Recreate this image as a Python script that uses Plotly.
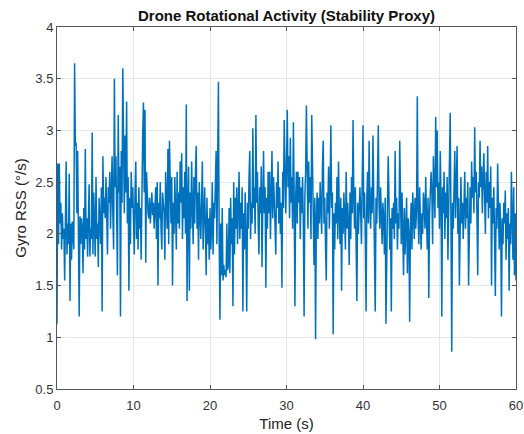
import plotly.graph_objects as go

dt = 0.1
rows = [
    [1.13, 2.68, 1.90, 2.68, 2.10, 2.30, 1.85, 2.20, 1.95, 2.05],
    [1.55, 2.25, 2.70, 1.80, 2.10, 1.90, 2.58, 1.35, 2.10, 1.75],
    [2.12, 2.00, 1.85, 3.65, 2.85, 2.88, 2.20, 2.80, 2.05, 1.20],
    [2.17, 1.90, 2.15, 2.05, 1.62, 2.25, 1.85, 2.82, 1.95, 2.15],
    [1.78, 2.30, 2.48, 1.78, 2.05, 1.95, 2.98, 1.80, 2.40, 2.10],
    [1.78, 2.55, 1.95, 2.10, 1.68, 2.35, 2.15, 1.90, 2.45, 1.25],
    [2.75, 2.20, 2.35, 2.15, 2.55, 2.25, 1.80, 2.45, 2.30, 2.60],
    [2.05, 2.40, 2.75, 2.20, 1.85, 3.50, 2.45, 2.75, 2.20, 1.60],
    [3.15, 2.40, 2.65, 1.20, 2.80, 2.30, 3.60, 2.55, 2.20, 2.95],
    [2.40, 3.28, 2.10, 2.55, 1.45, 2.35, 1.90, 2.60, 2.25, 2.45],
    [2.15, 1.80, 2.40, 2.70, 1.95, 2.30, 1.85, 2.45, 2.05, 2.25],
    [1.75, 2.55, 2.95, 3.27, 2.40, 3.20, 1.72, 2.60, 2.30, 2.20],
    [2.15, 2.35, 2.10, 2.25, 2.40, 2.18, 2.30, 2.05, 2.22, 2.45],
    [1.95, 2.50, 1.50, 2.30, 2.15, 2.50, 2.05, 1.85, 2.40, 2.25],
    [2.20, 1.75, 2.60, 2.30, 2.05, 2.82, 1.90, 2.90, 2.35, 2.10],
    [2.55, 1.50, 2.30, 2.00, 2.55, 2.25, 1.85, 2.60, 2.10, 2.40],
    [2.05, 2.70, 2.30, 2.78, 1.95, 2.45, 2.15, 2.60, 2.00, 3.25],
    [1.35, 2.25, 2.65, 1.45, 2.40, 2.05, 2.70, 2.25, 1.90, 2.55],
    [2.10, 2.60, 2.85, 2.05, 2.40, 1.75, 2.50, 2.20, 1.95, 2.30],
    [2.70, 1.85, 2.20, 2.45, 2.05, 1.60, 2.35, 1.90, 2.15, 1.75],
    [2.25, 1.85, 2.05, 2.50, 1.80, 2.30, 2.15, 2.45, 2.80, 1.90],
    [2.60, 3.47, 1.95, 1.17, 2.10, 1.60, 2.25, 1.55, 1.70, 1.60],
    [1.65, 1.58, 2.10, 1.65, 1.70, 2.25, 1.62, 2.35, 1.90, 2.15],
    [1.30, 2.50, 1.80, 2.35, 2.05, 2.45, 1.90, 2.20, 2.60, 1.95],
    [2.30, 2.05, 2.45, 1.25, 2.20, 1.85, 2.40, 1.95, 1.25, 2.30],
    [2.05, 2.55, 2.80, 1.95, 2.30, 2.10, 3.02, 2.25, 2.45, 2.00],
    [3.15, 2.30, 2.60, 2.10, 1.80, 2.45, 2.20, 2.65, 1.68, 2.30],
    [2.80, 2.20, 2.45, 1.48, 2.35, 2.05, 2.60, 2.20, 2.60, 1.95],
    [2.40, 2.80, 2.15, 2.55, 2.35, 2.05, 1.80, 2.50, 2.25, 2.70],
    [2.10, 2.45, 2.00, 2.30, 1.48, 2.60, 2.25, 3.10, 2.40, 2.20],
    [2.65, 3.20, 2.45, 2.75, 2.15, 2.93, 2.30, 2.55, 2.05, 3.08],
    [2.40, 1.30, 2.35, 2.60, 2.10, 2.60, 2.30, 2.55, 1.95, 2.45],
    [2.20, 2.55, 2.10, 1.20, 2.35, 2.60, 3.24, 2.45, 2.05, 2.70],
    [2.30, 2.55, 1.95, 3.15, 2.45, 2.20, 1.70, 2.35, 0.98, 2.15],
    [2.40, 1.95, 2.35, 2.10, 2.50, 2.25, 2.00, 2.65, 2.90, 2.10],
    [2.35, 1.90, 1.55, 2.40, 2.20, 2.65, 2.05, 2.45, 3.05, 2.25],
    [2.40, 1.03, 2.20, 1.85, 2.30, 2.10, 2.55, 1.95, 2.70, 2.20],
    [1.90, 2.35, 1.45, 2.25, 2.00, 2.40, 2.15, 1.85, 2.60, 2.05],
    [2.30, 2.10, 1.70, 2.40, 1.95, 2.55, 2.20, 3.10, 2.35, 2.05],
    [2.45, 1.85, 1.35, 2.30, 2.00, 2.25, 2.45, 2.20, 1.90, 2.55],
    [3.05, 2.15, 2.40, 1.95, 1.25, 2.35, 2.60, 2.10, 2.90, 2.25],
    [2.05, 2.45, 2.20, 2.95, 2.15, 1.95, 1.25, 2.35, 2.10, 2.55],
    [3.05, 2.25, 2.05, 2.45, 2.20, 1.90, 2.30, 2.15, 1.80, 2.35],
    [1.13, 2.20, 2.30, 2.75, 2.05, 1.85, 2.15, 1.25, 2.25, 2.05],
    [2.30, 1.95, 2.80, 2.10, 2.35, 1.85, 2.20, 2.05, 2.90, 2.25],
    [1.90, 2.40, 2.10, 1.60, 2.25, 1.80, 2.05, 2.35, 1.62, 2.15],
    [2.00, 1.15, 2.10, 2.30, 1.85, 2.40, 2.20, 1.95, 2.35, 2.05],
    [2.25, 3.33, 2.15, 1.90, 2.45, 2.10, 1.85, 2.20, 2.00, 2.40],
    [2.30, 2.05, 2.55, 2.15, 1.85, 2.35, 1.38, 2.20, 2.45, 2.60],
    [2.40, 1.90, 2.75, 2.30, 2.15, 3.13, 2.45, 3.00, 2.25, 2.50],
    [2.05, 2.80, 2.35, 1.20, 2.45, 2.20, 2.60, 1.95, 2.40, 2.15],
    [2.55, 1.75, 2.20, 2.45, 3.17, 2.10, 0.86, 2.30, 2.05, 2.45],
    [2.80, 2.15, 2.45, 2.85, 2.00, 2.35, 1.50, 2.20, 2.55, 2.10],
    [2.30, 1.95, 2.40, 2.60, 2.05, 2.35, 2.15, 2.50, 1.50, 2.30],
    [2.45, 2.10, 2.70, 2.35, 2.55, 2.20, 3.03, 2.40, 2.60, 2.15],
    [1.60, 2.50, 2.35, 2.90, 2.45, 2.65, 2.20, 2.55, 2.78, 2.35],
    [2.00, 2.60, 2.30, 2.85, 2.15, 2.50, 2.25, 2.65, 1.50, 2.35],
    [2.10, 2.45, 1.95, 1.40, 2.25, 2.05, 2.68, 2.15, 1.85, 2.30],
    [2.05, 1.20, 2.15, 1.90, 2.30, 2.10, 2.42, 1.75, 2.20, 1.95],
    [2.25, 1.45, 2.10, 1.90, 2.60, 2.15, 1.75, 2.45, 1.60, 2.20],
    [1.55],
]
gyro_rss = [v for r in rows for v in r]
time_s = [round(i * dt, 1) for i in range(len(gyro_rss))]

x_ticks = [0, 10, 20, 30, 40, 50, 60]
y_ticks = [0.5, 1, 1.5, 2, 2.5, 3, 3.5, 4]
y_labels = ["0.5", "1", "1.5", "2", "2.5", "3", "3.5", "4"]

FONT = "Liberation Sans, Arial"

fig = go.Figure()
fig.add_trace(go.Scatter(x=time_s, y=gyro_rss, mode="lines",
                         line=dict(color="#0072BD", width=1.5), showlegend=False))

axis_common = dict(showline=True, linecolor="#555555", linewidth=1, mirror="ticks",
                   ticks="inside", ticklen=4, tickcolor="#555555",
                   showgrid=True, gridcolor="#e6e6e6", gridwidth=1, zeroline=False,
                   automargin=False,
                   tickfont=dict(family=FONT, size=13, color="#333333"))

fig.update_layout(
    width=524, height=434,
    margin=dict(l=57, r=8, t=27, b=45, autoexpand=False),
    paper_bgcolor="white", plot_bgcolor="white",
    title=dict(text="<b>Drone Rotational Activity (Stability Proxy)</b>",
               x=0.5, xref="paper", xanchor="center",
               y=1 - 16 / 434, yref="container", yanchor="middle",
               font=dict(family=FONT, size=15, color="#111111")),
    xaxis=dict(range=[0, 60], tickvals=x_ticks, ticktext=[str(t) for t in x_ticks],
               ticklabelstandoff=4,
               title=dict(text="Time (s)", standoff=6,
                          font=dict(family=FONT, size=15, color="#222222")),
               **axis_common),
    yaxis=dict(range=[0.5, 4], tickvals=y_ticks, ticktext=y_labels,
               title=dict(text="Gyro RSS (°/s)", standoff=5,
                          font=dict(family=FONT, size=15, color="#222222")),
               **axis_common),
)

fig.write_html("out.html")
